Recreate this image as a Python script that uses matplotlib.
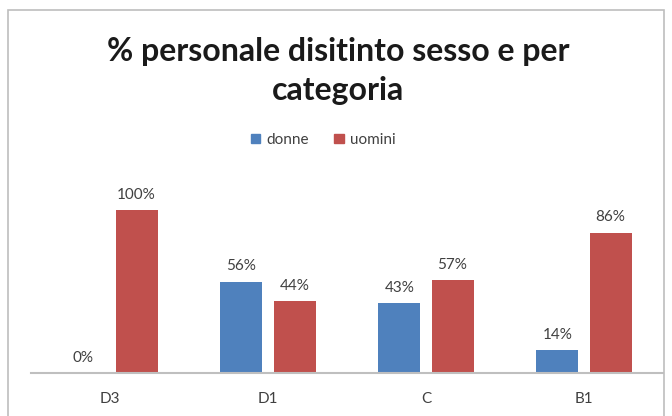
import matplotlib
matplotlib.use("Agg")
import matplotlib.pyplot as plt
from matplotlib.patches import Rectangle, Patch
import numpy as np

categories = ["D3", "D1", "C", "B1"]
donne = [0.00, 0.56, 0.43, 0.14]
uomini = [1.00, 0.44, 0.57, 0.86]
series_names = ["donne", "uomini"]
title = "% personale disitinto sesso e per\ncategoria"

W, H = 672, 416
fig = plt.figure(figsize=(W / 100, H / 100), dpi=100)
plt.rcParams['font.family'] = ['Lato', 'DejaVu Sans']

# chart frame
fig.patches.append(Rectangle((8 / W, -0.05), (664 - 8) / W, (H - 10) / H + 0.05,
                             transform=fig.transFigure, fill=False,
                             edgecolor="#BEBEBE", linewidth=1.2))

ax_left, ax_right = 31, 663
ax_bottom, ax_top = 373, 180
ax = fig.add_axes([ax_left / W, 1 - ax_bottom / H, (ax_right - ax_left) / W, (ax_bottom - ax_top) / H])

blue = "#4F81BD"
red = "#C0504D"
x = np.arange(len(categories))
bw = 0.266
gap = 0.07
b1 = ax.bar(x - (bw + gap) / 2, donne, bw, color=blue)
b2 = ax.bar(x + (bw + gap) / 2, uomini, bw, color=red)

for bars, vals in ((b1, donne), (b2, uomini)):
    for rect, v in zip(bars, vals):
        ax.annotate(f"{round(v * 100)}%", (rect.get_x() + rect.get_width() / 2, v),
                    xytext=(0, 6), textcoords="offset points", ha="center", va="bottom",
                    fontsize=11, color="#404040")

ax.set_xlim(-0.5, len(categories) - 0.5)
ax.set_ylim(0, 1.184)
ax.set_xticks(x)
ax.set_xticklabels(categories, fontsize=11, color="#404040")
ax.tick_params(axis="x", length=0, pad=14)
ax.set_yticks([])
for s in ("top", "right", "left"):
    ax.spines[s].set_visible(False)
ax.spines["bottom"].set_color("#BFBFBF")
ax.spines["bottom"].set_linewidth(1.5)

fig.text(338 / W, 1 - 71 / H, title, ha="center", va="center", fontsize=23,
         fontweight="bold", color="#1a1a1a", linespacing=1.4)

handles = [Patch(color=blue), Patch(color=red)]
fig.legend(handles, series_names, loc="center", bbox_to_anchor=(323 / W, 1 - 140 / H),
           ncol=2, frameon=False, fontsize=11, handlelength=0.6, handleheight=0.6,
           columnspacing=1.7, handletextpad=0.4, labelcolor="#404040")

fig.savefig("out.png", dpi=100)
